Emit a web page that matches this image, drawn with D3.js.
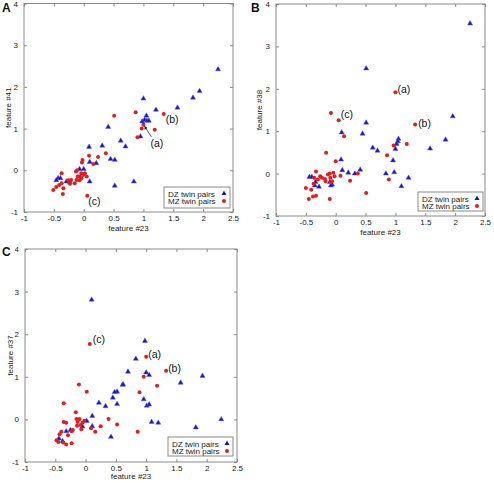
<!DOCTYPE html>
<html><head><meta charset="utf-8">
<script src="https://cdn.jsdelivr.net/npm/d3@7"></script>
<style>body{margin:0;background:#fff}svg{display:block}text{font-family:"Liberation Sans",Arial,sans-serif}</style>
</head><body>
<script>
// ---------- data ----------
const xTicks = [-1, -0.5, 0, 0.5, 1, 1.5, 2, 2.5];
const yTicks = [-1, 0, 1, 2, 3, 4];
const seriesNames = ["DZ twin pairs", "MZ twin pairs"];
const panelLetters = ["A", "B", "C"];
const xLabel = "feature #23";
const yLabels = ["feature #41", "feature #38", "feature #37"];

// Panel A: feature #23 vs feature #41
const aDZ = [[2.25,2.42],[1.94,1.90],[1.83,1.74],[1.57,1.50],[1.21,1.45],[1.00,1.72],[1.05,1.31],
  [0.98,1.17],[1.02,1.21],[1.06,1.19],[1.09,1.19],[0.62,0.71],[0.70,0.57],[0.95,0.81],[0.52,0.25],
  [0.84,-0.27],[0.52,-0.37],[0.41,1.04],[0.09,0.56],[0.31,0.59],[0.45,0.27],[0.10,0.20],[0.21,0.17],
  [0.10,-0.27],[-0.07,0.03],[0.0,0.03],[-0.43,-0.19],[-0.39,-0.19],[-0.46,-0.24],[-0.29,-0.27],[-0.23,-0.29]];
const aMZ = [[0.51,1.31],[0.87,1.39],[1.34,1.35],[1.00,1.09],[0.97,1.00],[1.19,0.97],[0.90,0.79],
  [0.37,0.41],[0.24,0.32],[0.16,0.15],[0.09,0.35],[-0.02,0.25],[-0.03,0.19],[0.06,-0.61],
  [-0.37,-0.07],[-0.51,-0.47],[-0.35,-0.57],[-0.46,-0.40],[-0.41,-0.35],[-0.37,-0.31],[-0.34,-0.43],
  [-0.15,-0.31],[-0.12,-0.23],[-0.10,-0.15],[-0.13,-0.03],[-0.04,-0.07],[-0.07,-0.15],[-0.01,-0.11],
  [-0.11,0.0],[-0.23,-0.32],[-0.26,-0.24],[-0.21,-0.23],[-0.07,-0.24],[-0.04,-0.19],[0.02,-0.07],[0.05,-0.15]];

// Panel B: feature #23 vs feature #38
const bDZ = [[2.25,3.54],[0.51,2.48],[1.96,1.35],[0.51,1.20],[0.10,0.97],[0.45,0.94],[0.09,0.33],
  [0.11,0.08],[0.21,0.02],[0.32,0.0],[0.41,0.09],[-0.44,-0.08],[-0.40,-0.08],[-0.34,-0.20],[-0.35,-0.28],
  [-0.28,-0.31],[-0.10,-0.20],[-0.06,-0.26],[-0.08,-0.28],[1.84,0.80],[1.58,0.59],[1.05,0.82],[1.04,0.76],
  [1.02,0.70],[1.00,0.58],[0.62,0.61],[0.70,0.54],[0.96,0.31],[0.84,0.0],[0.98,0.03],[1.22,-0.10],[1.10,-0.30]];
const bMZ = [[1.00,1.92],[-0.08,1.43],[0.05,1.26],[0.14,0.88],[-0.16,0.49],[0.0,0.29],[0.37,0.0],
  [0.24,-0.17],[0.51,-0.46],[-0.10,-0.60],[-0.33,0.05],[-0.50,-0.34],[-0.45,-0.60],[-0.38,-0.54],
  [-0.33,-0.52],[-0.41,-0.38],[-0.37,-0.24],[-0.36,-0.10],[-0.30,-0.14],[-0.26,-0.06],[-0.23,-0.10],
  [-0.18,-0.13],[-0.17,-0.18],[-0.13,-0.02],[-0.10,0.0],[-0.09,-0.10],[-0.06,-0.18],[-0.04,0.02],
  [-0.02,-0.06],[0.08,-0.05],[-0.08,-0.20],[1.33,1.16],[0.97,0.66],[1.19,0.70],[0.86,0.43],[0.89,-0.14]];

// Panel C: feature #23 vs feature #37
const cDZ = [[0.10,2.81],[0.98,1.84],[0.83,1.42],[0.70,1.12],[1.00,1.10],[1.05,1.04],[1.93,1.02],
  [0.61,0.81],[1.57,0.86],[0.52,0.65],[0.96,0.47],[0.52,0.36],[1.01,0.32],[1.05,0.35],[1.09,-0.06],
  [1.20,-0.08],[1.82,-0.19],[2.24,0.0],[0.48,0.64],[0.62,0.82],[0.45,0.51],[0.22,0.39],[0.33,0.31],
  [0.11,0.08],[0.02,-0.04],[-0.05,-0.17],[0.11,-0.16],[0.42,-0.41],[-0.44,-0.45],[-0.38,-0.51],
  [-0.32,-0.28],[-0.25,-0.25]];
const cMZ = [[0.07,1.77],[1.00,1.47],[1.33,1.14],[0.96,1.00],[1.18,0.79],[0.89,0.64],[0.52,-0.12],
  [0.86,-0.29],[-0.11,0.82],[0.02,0.65],[-0.36,0.38],[-0.16,0.17],[0.38,0.01],[-0.15,0.01],[-0.10,0.01],
  [-0.13,-0.06],[-0.05,-0.08],[-0.08,-0.13],[-0.02,-0.03],[-0.14,-0.15],[-0.07,-0.23],[0.09,-0.21],
  [0.16,-0.29],[0.25,-0.16],[-0.36,-0.06],[-0.32,-0.08],[-0.40,-0.29],[-0.43,-0.35],[-0.45,-0.53],
  [-0.48,-0.49],[-0.37,-0.54],[-0.32,-0.59],[-0.23,-0.56],[-0.29,-0.37],[-0.23,-0.28],[-0.21,-0.25]];

// annotation targets (a),(b),(c) for each panel
const aNotes = [["(a)",1.00,1.09],["(b)",1.34,1.35],["(c)",0.06,-0.61]];
const bNotes = [["(a)",1.00,1.92],["(b)",1.33,1.16],["(c)",0.05,1.26]];
const cNotes = [["(a)",1.00,1.47],["(b)",1.33,1.14],["(c)",0.07,1.77]];

// ---------- layout ----------
const W = 494, H = 483;
const BLUE = "#1414c4", RED = "#e01e1e", FRAME = "#8a8a8a";
const panels = [
  {l:24, r:233, t:3.5, b:212, dz:aDZ, mz:aMZ, notes:aNotes,
   noteOff:[[7,22],[2,9],[1,9]], arrow:true, legend:{x:164,y:187,w:66,h:21}, ylab:8, xlabY:231},
  {l:276, r:485, t:4, b:216, dz:bDZ, mz:bMZ, notes:bNotes,
   noteOff:[[2,1],[3,3],[2,-2]], arrow:false, legend:{x:418,y:192,w:65,h:19}, ylab:259, xlabY:235},
  {l:25, r:237, t:249, b:462, dz:cDZ, mz:cMZ, notes:cNotes,
   noteOff:[[2,1],[2,1],[3,-1]], arrow:false, legend:{x:168,y:437,w:65,h:19}, ylab:10, xlabY:479}
];

const svg = d3.select("body").append("svg").attr("width", W).attr("height", H);
const tri = d3.symbol().type(d3.symbolTriangle).size(11);

panels.forEach((p, i) => {
  const x = d3.scaleLinear().domain([-1, 2.5]).range([p.l, p.r]);
  const y = d3.scaleLinear().domain([-1, 4]).range([p.b, p.t]);
  const g = svg.append("g");

  // frame
  g.append("rect").attr("x", p.l).attr("y", p.t).attr("width", p.r - p.l).attr("height", p.b - p.t)
    .attr("fill", "none").attr("stroke", FRAME).attr("stroke-width", 1);

  const fmt = d => String(d);
  const style = sel => {
    sel.select(".domain").remove();
    sel.selectAll(".tick line").attr("stroke", FRAME);
    sel.selectAll(".tick text").attr("fill", "#222").attr("font-size", 8)
      .attr("font-family", "Liberation Sans, Arial, sans-serif");
  };
  g.append("g").attr("transform", `translate(0,${p.b})`)
    .call(d3.axisBottom(x).tickValues(xTicks).tickFormat(fmt).tickSize(-3).tickPadding(3)).call(style);
  g.append("g").attr("transform", `translate(0,${p.t})`)
    .call(d3.axisTop(x).tickValues(xTicks).tickFormat("").tickSize(-3)).call(style);
  g.append("g").attr("transform", `translate(${p.l},0)`)
    .call(d3.axisLeft(y).tickValues(yTicks).tickFormat(fmt).tickSize(-3).tickPadding(6)).call(style);
  g.append("g").attr("transform", `translate(${p.r},0)`)
    .call(d3.axisRight(y).tickValues(yTicks).tickFormat("").tickSize(-3)).call(style);

  // axis labels
  g.append("text").attr("x", (p.l + p.r) / 2).attr("y", p.xlabY).attr("text-anchor", "middle")
    .attr("font-size", 8).attr("fill", "#222").text(xLabel);
  g.append("text").attr("transform", `translate(${p.ylab + 3},${(p.t + p.b) / 2}) rotate(-90)`)
    .attr("text-anchor", "middle").attr("font-size", 8).attr("fill", "#222").text(yLabels[i]);

  // panel letter
  g.append("text").attr("x", i === 1 ? 251 : 2).attr("y", i === 2 ? 256 : 12)
    .attr("font-size", 12).attr("font-weight", "bold").attr("fill", "#111").text(panelLetters[i]);

  // points
  g.selectAll(".dz").data(p.dz).join("path").attr("class", "dz")
    .attr("d", tri).attr("transform", d => `translate(${x(d[0])},${y(d[1])})`)
    .attr("fill", BLUE).attr("stroke", "#5a5ae0").attr("stroke-width", 0.5);
  g.selectAll(".mz").data(p.mz).join("circle").attr("class", "mz")
    .attr("cx", d => x(d[0])).attr("cy", d => y(d[1])).attr("r", 2).attr("fill", RED);

  // annotations
  p.notes.forEach((n, k) => {
    const [dx, dy] = p.noteOff[k];
    g.append("text").attr("x", x(n[1]) + dx).attr("y", y(n[2]) + dy)
      .attr("font-size", 10.5).attr("fill", "#111").text(n[0]);
  });
  if (p.arrow) {
    const tx = x(p.notes[0][1]), ty = y(p.notes[0][2]);
    g.append("line").attr("x1", tx + 8).attr("y1", ty + 12).attr("x2", tx + 1.5).attr("y2", ty + 2)
      .attr("stroke", "#111").attr("stroke-width", 0.7);
    g.append("path").attr("d", `M${tx + 1},${ty + 1}L${tx + 1.2},${ty + 5}L${tx + 4},${ty + 3.2}Z`).attr("fill", "#111");
  }

  // legend
  const L = p.legend;
  const lg = g.append("g");
  lg.append("rect").attr("x", L.x).attr("y", L.y).attr("width", L.w).attr("height", L.h)
    .attr("fill", "#fff").attr("stroke", FRAME).attr("stroke-width", 1);
  seriesNames.forEach((s, k) => {
    const yy = L.y + 6.5 + k * 7.5;
    lg.append("text").attr("x", L.x + 4).attr("y", yy + 3).attr("font-size", 8).attr("fill", "#222").text(s);
    if (k === 0) lg.append("path").attr("d", tri).attr("transform", `translate(${L.x + L.w - 6},${yy})`)
      .attr("fill", BLUE);
    else lg.append("circle").attr("cx", L.x + L.w - 6).attr("cy", yy).attr("r", 2).attr("fill", RED);
  });
});
</script>
</body></html>
